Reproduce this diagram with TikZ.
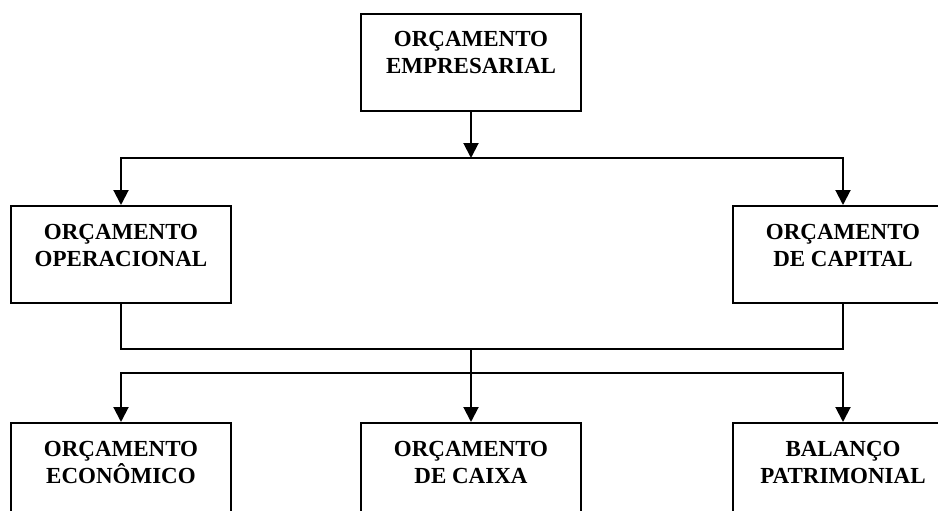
\documentclass[tikz,border=0pt]{standalone}
\usepackage{fontspec}
\setmainfont{Liberation Serif}
\usetikzlibrary{arrows.meta}
\begin{document}
\begin{tikzpicture}[x=1pt,y=-1pt,
  box/.style={draw, line width=2pt, rectangle, anchor=north, inner sep=0pt,
    minimum width=220pt, align=center, text height=60pt, text depth=37pt,
    font=\fontsize{23}{27}\selectfont\bfseries},
  conn/.style={line width=2pt},
  arr/.style={conn, -{Triangle[length=15pt,width=15pt]}}]
\useasboundingbox (0,0) rectangle (938,511);
\clip (0,0) rectangle (938,511);
\node[box] (top) at (471,13) {ORÇAMENTO\\EMPRESARIAL};
\node[box] (op) at (121,205) {ORÇAMENTO\\OPERACIONAL};
\node[box] (cap) at (843,205) {ORÇAMENTO\\DE CAPITAL};
\node[box] (eco) at (121,422) {ORÇAMENTO\\ECONÔMICO};
\node[box] (caixa) at (471,422) {ORÇAMENTO\\DE CAIXA};
\node[box] (bal) at (843,422) {BALANÇO\\PATRIMONIAL};
\coordinate (h1) at (471,158);
\coordinate (m1) at (471,349);
\coordinate (m2) at (471,373);
\draw[arr] (top.south) -- (h1);
\draw[arr] (h1) -| (op.north);
\draw[arr] (h1) -| (cap.north);
\draw[conn] (op.south) |- (m1) -| (cap.south);
\draw[conn] (m1) -- (m2);
\draw[arr] (m2) -- (caixa.north);
\draw[arr] (m2) -| (eco.north);
\draw[arr] (m2) -| (bal.north);
\end{tikzpicture}
\end{document}
